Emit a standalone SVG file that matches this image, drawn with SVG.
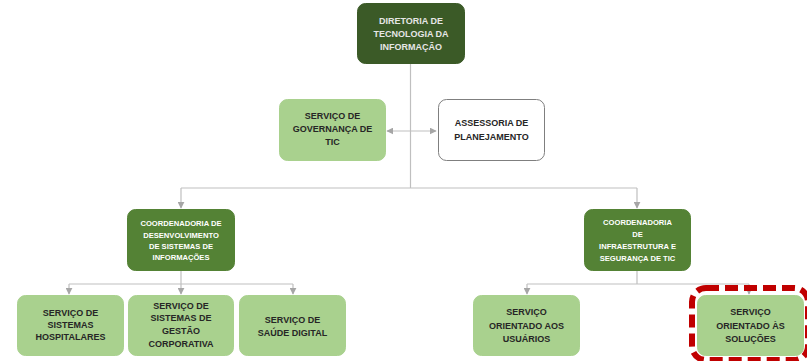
<svg xmlns="http://www.w3.org/2000/svg" width="807" height="361" viewBox="0 0 807 361">
<style>
.dark{fill:#3b5a27;stroke:#3b5a27}
.mid{fill:#548235;stroke:#548235}
.light{fill:#a9d18e;stroke:#a9d18e}
.white{fill:#ffffff;stroke:#7f7f7f;stroke-width:1}
text{font-family:"Liberation Sans",Arial,sans-serif;font-weight:bold;text-anchor:middle}
.t1{font-size:9px;fill:#e6e6e6}
.t2{font-size:7.6px;fill:#ffffff}
.t3{font-size:9px;fill:#262626}
.c{fill:none;stroke:#bfbfbf;stroke-width:1.2}
</style>
<defs>
<marker id="ah" viewBox="0 0 10 10" refX="9" refY="5" markerWidth="7" markerHeight="7" orient="auto-start-reverse" markerUnits="userSpaceOnUse">
<path d="M0,0 L10,5 L0,10 z" fill="#a6a6a6"/>
</marker>
</defs>
<g id="connectors">
<path class="c" d="M410.5,63 V188"/>
<path class="c" d="M181,188 H637"/>
<path class="c" d="M181,188 V208" marker-end="url(#ah)"/>
<path class="c" d="M637,188 V208" marker-end="url(#ah)"/>
<path class="c" d="M387,131 H436" marker-start="url(#ah)" marker-end="url(#ah)"/>
<path class="c" d="M181,270 V284"/>
<path class="c" d="M69,284 H293"/>
<path class="c" d="M69,284 V294" marker-end="url(#ah)"/>
<path class="c" d="M181,284 V294" marker-end="url(#ah)"/>
<path class="c" d="M293,284 V294" marker-end="url(#ah)"/>
<path class="c" d="M637,270 V284"/>
<path class="c" d="M527,284 H749"/>
<path class="c" d="M527,284 V294" marker-end="url(#ah)"/>
<path class="c" d="M749,284 V294" marker-end="url(#ah)"/>
</g>
<g id="diretoria">
<rect class="dark" x="357.5" y="3.5" width="107" height="60" rx="8"/>
<text class="t1" x="411" y="23.5">DIRETORIA DE</text>
<text class="t1" x="411" y="36.5">TECNOLOGIA DA</text>
<text class="t1" x="411" y="50">INFORMAÇÃO</text>
</g>
<g id="governanca">
<rect class="light" x="279.5" y="99.5" width="106" height="61" rx="8"/>
<text class="t3" x="332.5" y="118.5">SERVIÇO DE</text>
<text class="t3" x="332.5" y="131.5">GOVERNANÇA DE</text>
<text class="t3" x="332.5" y="145">TIC</text>
</g>
<g id="assessoria">
<rect class="white" x="438.5" y="99.5" width="106" height="61" rx="8"/>
<text class="t3" x="491.5" y="126">ASSESSORIA DE</text>
<text class="t3" x="491.5" y="140">PLANEJAMENTO</text>
</g>
<g id="coord-desenvolvimento">
<rect class="mid" x="127.5" y="209.5" width="107" height="61" rx="8"/>
<text class="t2" x="181" y="226">COORDENADORIA DE</text>
<text class="t2" x="181" y="237.5">DESENVOLVIMENTO</text>
<text class="t2" x="181" y="248.5">DE SISTEMAS DE</text>
<text class="t2" x="181" y="260">INFORMAÇÕES</text>
</g>
<g id="coord-infraestrutura">
<rect class="mid" x="584.5" y="209.5" width="106" height="61" rx="8"/>
<text class="t2" x="637.5" y="225">COORDENADORIA</text>
<text class="t2" x="637.5" y="237">DE</text>
<text class="t2" x="637.5" y="249">INFRAESTRUTURA E</text>
<text class="t2" x="637.5" y="261">SEGURANÇA DE TIC</text>
</g>
<g id="sistemas-hospitalares">
<rect class="light" x="17.5" y="295.5" width="106" height="60" rx="8"/>
<text class="t3" x="70.5" y="316">SERVIÇO DE</text>
<text class="t3" x="70.5" y="328">SISTEMAS</text>
<text class="t3" x="70.5" y="340">HOSPITALARES</text>
</g>
<g id="gestao-corporativa">
<rect class="light" x="128.5" y="295.5" width="105" height="60" rx="8"/>
<text class="t3" x="181" y="308.5">SERVIÇO DE</text>
<text class="t3" x="181" y="321">SISTEMAS DE</text>
<text class="t3" x="181" y="334">GESTÃO</text>
<text class="t3" x="181" y="346.5">CORPORATIVA</text>
</g>
<g id="saude-digital">
<rect class="light" x="239.5" y="295.5" width="106" height="60" rx="8"/>
<text class="t3" x="292.5" y="323">SERVIÇO DE</text>
<text class="t3" x="292.5" y="335.5">SAÚDE DIGITAL</text>
</g>
<g id="usuarios">
<rect class="light" x="473.5" y="295.5" width="106" height="60" rx="8"/>
<text class="t3" x="526.5" y="315">SERVIÇO</text>
<text class="t3" x="526.5" y="328.5">ORIENTADO AOS</text>
<text class="t3" x="526.5" y="342">USUÁRIOS</text>
</g>
<g id="solucoes">
<rect class="light" x="697.5" y="295.5" width="106" height="60" rx="8"/>
<text class="t3" x="750.5" y="315">SERVIÇO</text>
<text class="t3" x="750.5" y="328.5">ORIENTADO ÀS</text>
<text class="t3" x="750.5" y="342">SOLUÇÕES</text>
<rect x="692" y="288" width="116" height="72" rx="14" fill="none" stroke="#c00000" stroke-width="6" stroke-dasharray="13,6"/>
</g>
</svg>
